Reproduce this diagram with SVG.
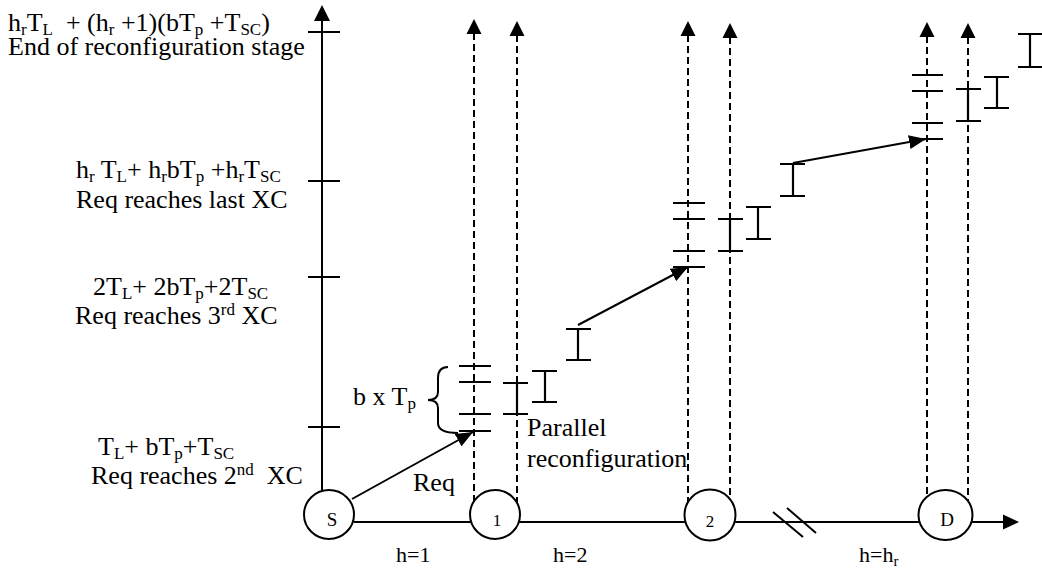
<svg xmlns="http://www.w3.org/2000/svg" width="1042" height="571" viewBox="0 0 1042 571">
<style>
.t{font-family:"Liberation Serif","Times New Roman",serif;font-size:26px;fill:#000}
.s{font-size:17px}
.h{font-family:"Liberation Serif","Times New Roman",serif;font-size:22px;fill:#000}
.n{font-family:"Liberation Serif","Times New Roman",serif;font-size:19px;fill:#000;text-anchor:middle}
.ln{stroke:#000;stroke-width:2;fill:none}
.dash{stroke:#000;stroke-width:2;fill:none;stroke-dasharray:7 4}
.node{fill:#fff;stroke:#000;stroke-width:2}
.bar{stroke:#000;stroke-width:2.2;fill:none}
.ah{fill:#000}
</style>
<defs>
<marker id="arr" markerUnits="userSpaceOnUse" markerWidth="18" markerHeight="14" refX="17" refY="7" orient="auto">
<path d="M0,0 L17,7 L0,14 Z" class="ah"/>
</marker>
</defs>

<g id="axes">
<line class="ln" x1="322" y1="490" x2="322" y2="20"/>
<path class="ah" d="M322,5 L314,21 L330,21 Z"/>
<line class="ln" x1="308" y1="32" x2="340" y2="32"/>
<line class="ln" x1="308" y1="181" x2="340" y2="181"/>
<line class="ln" x1="308" y1="277" x2="340" y2="277"/>
<line class="ln" x1="308" y1="427" x2="340" y2="427"/>
<line class="ln" x1="354" y1="522" x2="1004" y2="522"/>
<path class="ah" d="M1019,522 L1003,514.5 L1003,529.5 Z"/>
<line class="ln" x1="773" y1="512" x2="803" y2="537"/>
<line class="ln" x1="787" y1="508" x2="816" y2="533"/>
</g>

<g id="connectors">
<line class="dash" x1="474" y1="33" x2="474" y2="505"/>
<path class="ah" d="M474,19 L466.5,34 L481.5,34 Z"/>
<line class="dash" x1="517" y1="35" x2="517" y2="505"/>
<path class="ah" d="M517,21 L509.5,36 L524.5,36 Z"/>
<line class="dash" x1="688" y1="35" x2="688" y2="505"/>
<path class="ah" d="M688,21 L680.5,36 L695.5,36 Z"/>
<line class="dash" x1="730" y1="37" x2="730" y2="505"/>
<path class="ah" d="M730,23 L722.5,38 L737.5,38 Z"/>
<line class="dash" x1="927" y1="36" x2="927" y2="505"/>
<path class="ah" d="M927,22 L919.5,37 L934.5,37 Z"/>
<line class="dash" x1="968" y1="37" x2="968" y2="505"/>
<path class="ah" d="M968,23 L960.5,38 L975.5,38 Z"/>
<line class="ln" x1="352" y1="499" x2="473" y2="432" marker-end="url(#arr)"/>
<line class="ln" x1="578" y1="325" x2="688" y2="267" marker-end="url(#arr)"/>
<line class="ln" x1="793" y1="163" x2="926" y2="139" marker-end="url(#arr)"/>
</g>

<g id="bars1">
<path class="bar" d="M459,366H491M459,382H491M459,414H491M459,431H491"/>
<path class="bar" d="M503,383H528M503,414H528M517,383V414"/>
<path class="bar" d="M532,371H557M532,402H557M545,371V402"/>
<path class="bar" d="M566,329H591M566,360H591M578,329V360"/>
<path class="ln" d="M448,367 Q438,367 438,378 L438,392 Q438,400 428,400 Q438,400 438,408 L438,423 Q438,433 458,433"/>
</g>
<g id="bars2">
<path class="bar" d="M673,203H705M673,219H705M673,251H705M673,267H705"/>
<path class="bar" d="M718,219H743M718,251H743M730,219V251"/>
<path class="bar" d="M746,207H771M746,239H771M758,207V239"/>
<path class="bar" d="M780,164H805M780,196H805M793,164V196"/>
</g>
<g id="barsD">
<path class="bar" d="M912,75H943M912,91H943M912,123H943M912,139H943"/>
<path class="bar" d="M956,89H981M956,121H981M968,89V121"/>
<path class="bar" d="M984,77H1009M984,108H1009M997,77V108"/>
<path class="bar" d="M1018,34H1043M1018,67H1043M1030,34V67"/>
</g>

<g id="node-S"><ellipse class="node" cx="329" cy="514.5" rx="25" ry="24.5"/><text class="n" x="332" y="526">S</text></g>
<g id="node-1"><ellipse class="node" cx="495" cy="514.5" rx="25" ry="24.5"/><text class="n" x="497" y="526" style="font-size:17px">1</text></g>
<g id="node-2"><ellipse class="node" cx="710" cy="515" rx="25.5" ry="25.5"/><text class="n" x="710" y="527" style="font-size:17px">2</text></g>
<g id="node-D"><ellipse class="node" cx="945.5" cy="515" rx="27" ry="25"/><text class="n" x="947" y="526">D</text></g>

<g id="labels">
<text class="t" xml:space="preserve" x="8" y="31">h<tspan class="s" dy="4">r</tspan><tspan dy="-4">T</tspan><tspan class="s" dy="4">L</tspan><tspan dy="-4">  + (h</tspan><tspan class="s" dy="4">r</tspan><tspan dy="-4"> +1)(bT</tspan><tspan class="s" dy="4">p</tspan><tspan dy="-4"> +T</tspan><tspan class="s" dy="4">SC</tspan><tspan dy="-4">)</tspan></text>
<text class="t" x="8" y="55">End of reconfiguration stage</text>
<text class="t" xml:space="preserve" x="76" y="178">h<tspan class="s" dy="4">r</tspan><tspan dy="-4"> T</tspan><tspan class="s" dy="4">L</tspan><tspan dy="-4">+ h</tspan><tspan class="s" dy="4">r</tspan><tspan dy="-4">bT</tspan><tspan class="s" dy="4">p</tspan><tspan dy="-4"> +h</tspan><tspan class="s" dy="4">r</tspan><tspan dy="-4">T</tspan><tspan class="s" dy="4">SC</tspan></text>
<text class="t" x="76" y="208">Req reaches last XC</text>
<text class="t" xml:space="preserve" x="93" y="295">2T<tspan class="s" dy="4">L</tspan><tspan dy="-4">+ 2bT</tspan><tspan class="s" dy="4">p</tspan><tspan dy="-4">+2T</tspan><tspan class="s" dy="4">SC</tspan></text>
<text class="t" xml:space="preserve" x="75" y="324">Req reaches 3<tspan class="s" dy="-9">rd</tspan><tspan dy="9"> XC</tspan></text>
<text class="t" xml:space="preserve" x="98" y="455">T<tspan class="s" dy="4">L</tspan><tspan dy="-4">+ bT</tspan><tspan class="s" dy="4">p</tspan><tspan dy="-4">+T</tspan><tspan class="s" dy="4">SC</tspan></text>
<text class="t" xml:space="preserve" x="91" y="484">Req reaches 2<tspan class="s" dy="-9">nd</tspan><tspan dy="9">  XC</tspan></text>
<text class="t" xml:space="preserve" x="353" y="405">b x T<tspan class="s" dy="4">p</tspan></text>
<text class="t" x="527" y="436">Parallel</text>
<text class="t" x="527" y="467">reconfiguration</text>
<text class="t" x="413" y="491">Req</text>
<text class="h" x="396" y="562">h=1</text>
<text class="h" x="553" y="562">h=2</text>
<text class="h" xml:space="preserve" x="859" y="562">h=h<tspan class="s" dy="4" style="font-size:15px">r</tspan></text>
</g>
</svg>
